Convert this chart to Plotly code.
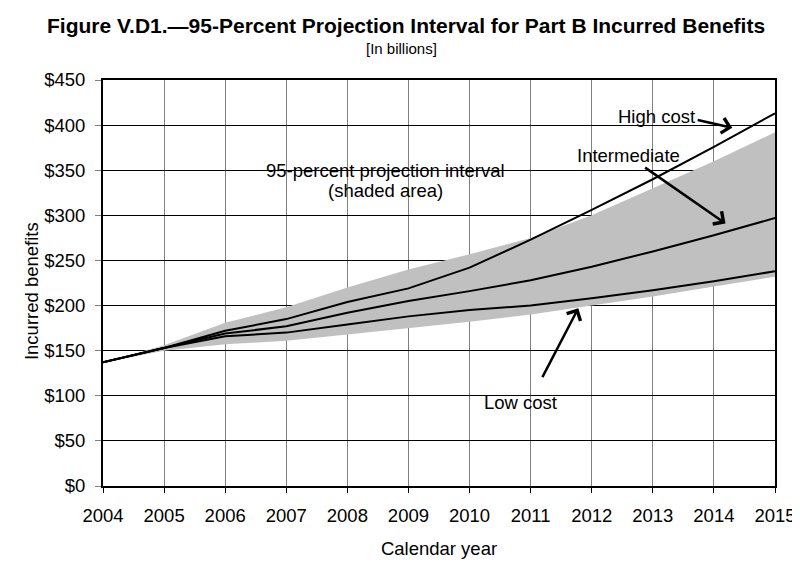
import plotly.graph_objects as go

years = [2004, 2005, 2006, 2007, 2008, 2009, 2010, 2011, 2012, 2013, 2014, 2015]
high_cost = [137, 153, 172, 185, 204, 219, 242, 273, 306, 340, 376, 413]
intermediate = [137, 153, 169, 177, 192, 205, 216, 228, 243, 260, 278, 297]
low_cost = [137, 153, 166, 170, 179, 188, 195, 200, 208, 217, 227, 238]
interval_upper = [137, 156, 181, 198, 220, 240, 257, 275, 300, 330, 360, 392]
interval_lower = [137, 150, 157, 161, 168, 175, 182, 190, 200, 210, 221, 232]

y_ticks = [0, 50, 100, 150, 200, 250, 300, 350, 400, 450]
y_tick_labels = ["$" + str(v) for v in y_ticks]

FONT = "Liberation Sans, Arial, sans-serif"
FS = 18.5

fig = go.Figure()
fig.add_trace(go.Scatter(x=years, y=interval_lower, mode="lines",
                         line=dict(width=0, color="#C0C0C0"), showlegend=False,
                         hoverinfo="skip"))
fig.add_trace(go.Scatter(x=years, y=interval_upper, mode="lines", fill="tonexty",
                         fillcolor="#C0C0C0", line=dict(width=0, color="#C0C0C0"),
                         showlegend=False, hoverinfo="skip"))
for name, vals in [("Low cost", low_cost), ("Intermediate", intermediate), ("High cost", high_cost)]:
    fig.add_trace(go.Scatter(x=years, y=vals, mode="lines", name=name,
                             line=dict(color="black", width=2), showlegend=False))

# text labels
texts = [
    ("High cost", 2013.06, 409),
    ("Intermediate", 2012.6, 366),
    ("95-percent projection interval", 2008.62, 350),
    ("(shaded area)", 2008.62, 327),
    ("Low cost", 2010.83, 93),
]
for t, x, y in texts:
    fig.add_annotation(x=x, y=y, xref="x", yref="y", text=t, showarrow=False,
                       font=dict(family=FONT, size=FS, color="black"))

# arrows (head x, head y, tail x, tail y)
arrows = [
    (2014.30, 397, 2013.71, 406),
    (2014.19, 291, 2012.85, 354),
    (2011.78, 197, 2011.18, 119),
]
for hx, hy, tx, ty in arrows:
    fig.add_annotation(x=hx, y=hy, ax=tx, ay=ty, xref="x", yref="y", axref="x", ayref="y",
                       text="", showarrow=True, arrowhead=4, arrowsize=1.2,
                       arrowwidth=2.5, arrowcolor="black", standoff=0, startstandoff=0)

PX = lambda px: (px - 95) / 682
PY = lambda py: (478 - py) / 406

fig.add_annotation(x=PX(403), y=PY(17), xref="paper", yref="paper", yanchor="middle",
                   text="<b>Figure V.D1.\u201495-Percent Projection Interval for Part B Incurred Benefits</b>",
                   showarrow=False, font=dict(family=FONT, size=21, color="black"))
fig.add_annotation(x=PX(398), y=PY(40), xref="paper", yref="paper", yanchor="middle",
                   text="[In billions]", showarrow=False,
                   font=dict(family=FONT, size=15, color="black"))
fig.add_annotation(x=PX(22), y=PY(283), xref="paper", yref="paper",
                   xanchor="center", yanchor="middle", textangle=-90,
                   text="Incurred benefits", showarrow=False,
                   font=dict(family=FONT, size=FS, color="black"))

fig.update_layout(
    width=800, height=579,
    margin=dict(l=95, r=23, t=72, b=101),
    paper_bgcolor="white", plot_bgcolor="white",
    font=dict(family=FONT, size=FS, color="black"),
    xaxis=dict(range=[2004, 2015], tickmode="array", tickvals=years,
               ticktext=[str(y) for y in years],
               showgrid=True, gridcolor="#808080", gridwidth=1,
               showline=True, linecolor="black", linewidth=2, mirror=True,
               ticks="outside", ticklen=5, tickcolor="black", ticklabelstandoff=7,
               zeroline=False,
               title=dict(text="Calendar year", standoff=17,
                          font=dict(family=FONT, size=FS))),
    yaxis=dict(range=[0, 450], tickmode="array", tickvals=y_ticks, ticktext=y_tick_labels,
               showgrid=True, gridcolor="black", gridwidth=1,
               showline=True, linecolor="black", linewidth=2, mirror=True,
               ticks="outside", ticklen=6, tickcolor="#808080", ticklabelstandoff=6,
               zeroline=False),
)

fig.write_html("out.html")
